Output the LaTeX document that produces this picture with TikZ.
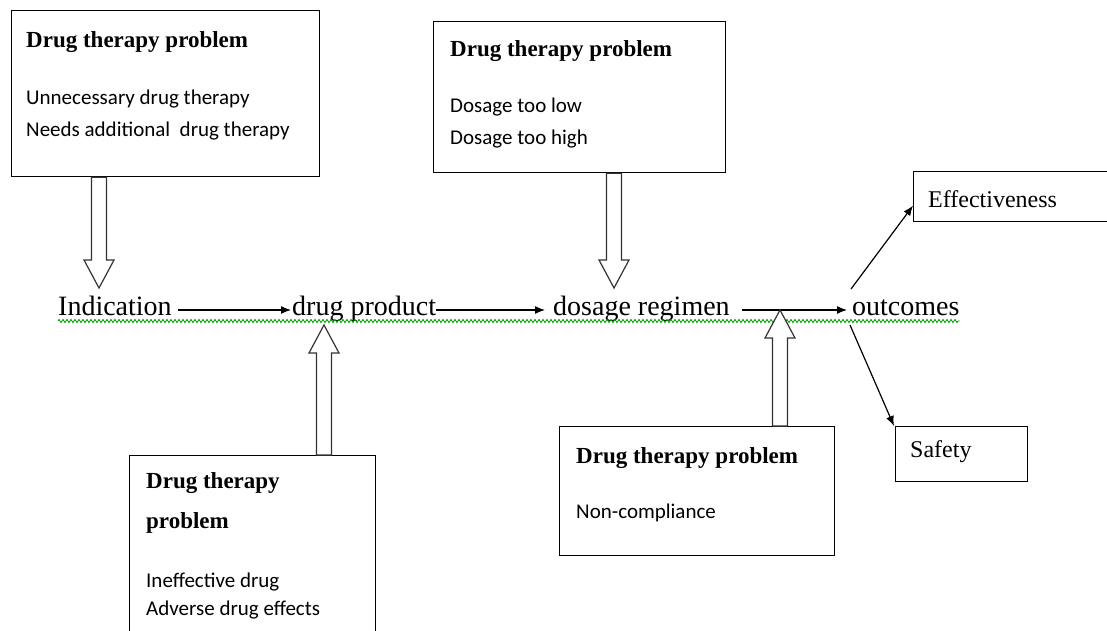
\documentclass[tikz,border=0pt]{standalone}
\usepackage{fontspec}
\setmainfont{Liberation Serif}
\newfontfamily\bodyfont{Carlito}
\usetikzlibrary{arrows.meta,decorations.pathmorphing,calc}
\begin{document}
\begin{tikzpicture}[x=1pt,y=-1pt,
  box/.style={draw,line width=1.3pt,inner sep=0pt,anchor=north west},
  ttl/.style={font=\fontsize{23}{26}\selectfont\bfseries,anchor=base west,inner sep=0pt},
  item/.style={font=\bodyfont\fontsize{21}{24}\selectfont,anchor=base west,inner sep=0pt},
  lbl/.style={font=\fontsize{28}{32}\selectfont,anchor=base west,inner sep=0pt},
  olbl/.style={font=\fontsize{24}{28}\selectfont,anchor=base west,inner sep=0pt},
  flow/.style={-{Latex[length=10pt,width=8pt]},line width=1.2pt},
  blockarrow/.style={draw=black!80,fill=white,line width=1.2pt,
    to path={let \p1=(\tikztostart),\p2=(\tikztotarget),
      \n2={\y2-ifthenelse(\y2>\y1,28,-28)} in
      (\x1-7.5pt,\y1) -- (\x1-7.5pt,{\n2*1pt}) -- (\x1-15pt,{\n2*1pt}) -- (\x2,\y2)
      -- (\x1+15pt,{\n2*1pt}) -- (\x1+7.5pt,{\n2*1pt}) -- (\x1+7.5pt,\y1) -- cycle}},
  wavy/.style={draw=green!60!black,line width=0.8pt,
    decorate,decoration={zigzag,segment length=4pt,amplitude=1.6pt}}
]
\useasboundingbox (0,0) rectangle (1107,631);

% boxes
\node[box,minimum width=308pt,minimum height=166pt] (b1) at (11,10) {};
\node[box,minimum width=292pt,minimum height=151pt] (b2) at (433,21) {};
\node[box,minimum width=246pt,minimum height=200pt] (b3) at (129,455) {};
\node[box,minimum width=275pt,minimum height=129pt] (b4) at (559,426) {};
\node[box,minimum width=210pt,minimum height=50pt] (eff) at (913,171) {};
\node[box,minimum width=132pt,minimum height=55pt] (saf) at (895,426) {};

% box texts
\node[ttl] (b1t) at (26,48) {Drug therapy problem};
\node[item] (b1a) at (26,105) {Unnecessary drug therapy};
\node[item] (b1b) at (26,137) {Needs additional\ \ drug therapy};

\node[ttl] (b2t) at (450,57) {Drug therapy problem};
\node[item] (b2a) at (450,113) {Dosage too low};
\node[item] (b2b) at (450,145) {Dosage too high};

\node[ttl] (b3t) at (146,488) {Drug therapy};
\node[ttl] (b3u) at (146,528) {problem};
\node[item] (b3a) at (146,587) {Ineffective drug};
\node[item] (b3b) at (146,615) {Adverse drug effects};

\node[ttl] (b4t) at (576,463) {Drug therapy problem};
\node[item] (b4a) at (576,518) {Non-compliance};

\node[olbl] (efft) at (928,207) {Effectiveness};
\node[olbl] (saft) at (910,457) {Safety};

% main chain
\node[lbl] (ind) at (58,315) {Indication};
\node[lbl] (dp) at (292,315) {drug product};
\node[lbl] (dr) at (553,315) {dosage regimen};
\node[lbl] (out) at (852,315) {outcomes};

\draw[wavy] ([yshift=-6pt]ind.base west) -- ([yshift=-6pt]out.base east);

\draw[flow] ([xshift=6pt,yshift=5pt]ind.base east) -- ([xshift=-1pt,yshift=5pt]dp.base west);
\draw[flow] ([xshift=0pt,yshift=5pt]dp.base east) -- ([xshift=-8pt,yshift=5pt]dr.base west);
\draw[flow] ([xshift=12pt,yshift=5pt]dr.base east) -- ([xshift=-5pt,yshift=5pt]out.base west);

\draw[flow] ([xshift=-1pt,yshift=26pt]out.base west) -- ([yshift=-9pt]eff.west);
\draw[flow] ([xshift=-2pt,yshift=-10pt]out.base west) -- ([xshift=-1pt]saf.north west);

% block arrows
\coordinate (t1) at (99,288);
\coordinate (t2) at (324,325);
\coordinate (t3) at (614,288);
\coordinate (t4) at (780,310);
\draw[blockarrow] (b1.south -| t1) to (t1);
\draw[blockarrow] (b3.north -| t2) to (t2);
\draw[blockarrow] (b2.south -| t3) to (t3);
\draw[blockarrow] (b4.north -| t4) to (t4);
\end{tikzpicture}
\end{document}
